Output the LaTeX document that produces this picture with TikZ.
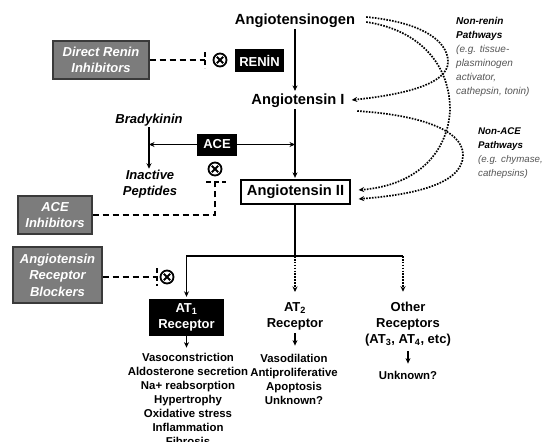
\documentclass[tikz,border=0pt]{standalone}
\usepackage{fontspec}
\setmainfont{Liberation Sans}
\usetikzlibrary{arrows.meta,calc}
\definecolor{boxgray}{HTML}{7C7C7C}
\definecolor{edgegray}{HTML}{3A3A3A}
\definecolor{notegray}{HTML}{555555}
\begin{document}
\begin{tikzpicture}[x=1pt,y=-1pt,
  big/.style={font=\fontsize{14.7}{17}\selectfont\bfseries, inner sep=1pt},
  blk/.style={fill=black, text=white, font=\fontsize{13}{16}\selectfont\bfseries, inner sep=0pt, align=center},
  gbox/.style={fill=boxgray, draw=edgegray, line width=1.3pt, text=white, font=\fontsize{13}{16.5}\selectfont\bfseries\itshape, inner sep=0pt, align=center},
  bi/.style={font=\fontsize{13}{16}\selectfont\bfseries\itshape, align=center, inner sep=1pt},
  rec/.style={font=\fontsize{13}{16}\selectfont\bfseries, align=center, inner sep=1pt},
  eff/.style={font=\fontsize{11.4}{14}\selectfont\bfseries, align=center, inner sep=1pt},
  note/.style={font=\fontsize{10}{14}\selectfont\itshape, align=left, inner sep=0pt, anchor=north west},
  tip/.style={-{Stealth[length=5.5pt,width=5pt]}},
  solidarr/.style={line width=1.5pt, tip},
  plainline/.style={line width=1.5pt},
  dotarr/.style={line width=1.7pt, dash pattern=on 1.6pt off 1.3pt, tip},
  inhib/.style={line width=1.5pt, dash pattern=on 6pt off 4pt},
  tbar/.style={line width=1.5pt, dash pattern=on 5pt off 3pt},
  xmark/.style={circle, draw, line width=1.8pt, minimum size=13pt, inner sep=0pt,
    path picture={\draw[line width=1.8pt]
      ([shift={(-3.2pt,-3.2pt)}]path picture bounding box.center) -- ([shift={(3.2pt,3.2pt)}]path picture bounding box.center)
      ([shift={(-3.2pt,3.2pt)}]path picture bounding box.center) -- ([shift={(3.2pt,-3.2pt)}]path picture bounding box.center);}}
]
\fill[white] (0,0) rectangle (544,442);
\useasboundingbox (0,0) rectangle (544,442);

% main cascade
\node[big] (agen) at (295,21) {Angiotensinogen};
\node[blk, minimum width=49pt, minimum height=23pt] (renin) at (259.5,60.5) {RENİN};
\node[xmark] (xr) at (220,60) {};
\coordinate (tr) at (205,60);
\node[gbox, minimum width=96pt, minimum height=38pt] (dri) at (101,60) {Direct Renin\\Inhibitors};
\node[big] (ang1) at (298,101) {Angiotensin I};
\node[big, draw, line width=1.3pt, minimum width=109pt, minimum height=24pt, inner sep=0pt] (ang2) at (295.5,192) {Angiotensin II};
\node[blk, minimum width=40pt, minimum height=22pt] (ace) at (217,144.5) {ACE};
\node[bi] (brady) at (149,120) {Bradykinin};
\node[bi] (inact) at (150,184) {Inactive\\Peptides};
\node[xmark] (xace) at (215,169) {};
\coordinate (tace) at (215,182);
\node[gbox, minimum width=74pt, minimum height=38pt] (acei) at (55,215) {ACE\\Inhibitors};
\node[gbox, minimum width=89pt, minimum height=56pt] (arb) at (57.5,275) {Angiotensin\\Receptor\\Blockers};
\coordinate (tarb) at (157,277);
\node[xmark] (xarb) at (167,277) {};
\coordinate (br) at (295,256);
\coordinate (br3) at (403,256);
\node[blk, minimum width=75pt, minimum height=37pt] (at1) at (186.5,317.5) {AT\textsubscript{1}\\Receptor};
\node[eff] (fx1) at (188,399) {Vasoconstriction\\Aldosterone secretion\\Na+ reabsorption\\Hypertrophy\\Oxidative stress\\Inflammation\\Fibrosis};
\node[rec] (at2) at (295,316) {AT\textsubscript{2}\\Receptor};
\node[eff] (fx2) at (294,379) {Vasodilation\\Antiproliferative\\Apoptosis\\Unknown?};
\node[rec] (oth) at (408,324) {Other\\Receptors\\(AT\textsubscript{3}, AT\textsubscript{4}, etc)};
\node[eff] (unk) at (408,375) {Unknown?};

% side notes
\node[note] (nr) at (456,17) {\textbf{Non-renin}\\\textbf{Pathways}\\\textcolor{notegray}{(e.g. tissue-}\\\textcolor{notegray}{plasminogen}\\\textcolor{notegray}{activator,}\\\textcolor{notegray}{cathepsin, tonin)}};
\node[note, font=\fontsize{9.7}{14}\selectfont\itshape] (na) at (478,128) {\textbf{Non-ACE}\\\textbf{Pathways}\\\textcolor{notegray}{(e.g. chymase,}\\\textcolor{notegray}{cathepsins)}};

% solid arrows
\draw[solidarr, shorten >=2pt] (agen.south) -- (agen.south |- ang1.north);
\draw[solidarr, shorten >=1.5pt] (ang1.south -| agen.south) -- (ang2.north -| agen.south);
\draw[solidarr] (ace.east) -- (ace.east -| agen.south);
\draw[solidarr] (ace.west) -- (ace.west -| brady.south);
\draw[solidarr] (brady.south) -- (brady.south |- inact.north);

% inhibitors
\draw[inhib] (dri.east) -- (tr);
\draw[tbar] ($(tr)+(0,-8)$) -- ($(tr)+(0,8)$);
\draw[inhib] (acei.east) -| (tace);
\draw[tbar] ($(tace)+(-9,0)$) -- ($(tace)+(11,0)$);
\draw[inhib] (arb.east |- tarb) -- (tarb);
\draw[tbar] ($(tarb)+(0,-9)$) -- ($(tarb)+(0,9)$);

% receptors branch
\draw[plainline] (ang2.south -| br) -- (br);
\draw[plainline] (br) -- (br3);
\draw[solidarr, shorten >=2pt] (br) -| (at1.north);
\draw[dotarr, shorten >=9pt] (br) -- (at2.north);
\draw[dotarr, shorten >=9pt] (br3) -- (br3 |- oth.north);
\draw[solidarr, shorten >=4pt] (at1.south) -- (at1.south |- fx1.north);
\draw[solidarr, shorten <=2pt, shorten >=7pt] (at2.south) -- (at2.south |- fx2.north);
\draw[solidarr, shorten <=4pt, shorten >=6pt] (oth.south) -- (unk.north);

% alternative pathways
\draw[dotarr] ([xshift=10pt,yshift=4pt]agen.east) .. controls (420,22) and (448,40) .. (448,62)
   .. controls (448,85) and (400,95) .. ([xshift=6pt,yshift=1pt]ang1.east);
\draw[dotarr] ([xshift=10pt,yshift=-1pt]agen.east) .. controls (420,30) and (450,65) .. (450,110)
   .. controls (448,150) and (420,185) .. ([xshift=8pt,yshift=2pt]ang2.east);
\draw[dotarr] ([xshift=11.5pt,yshift=-10pt]ang1.east) .. controls (420,115) and (463,130) .. (463,155)
   .. controls (463,185) and (410,195) .. ([xshift=8pt,yshift=-7pt]ang2.east);
\end{tikzpicture}
\end{document}
